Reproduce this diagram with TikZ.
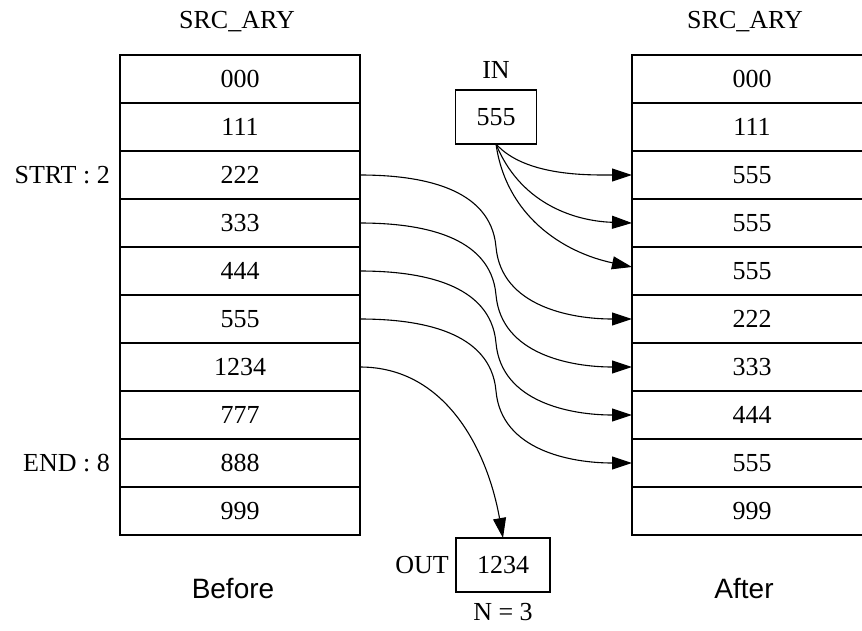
\documentclass[tikz,border=0pt]{standalone}
\usepackage{fontspec}
\setmainfont{Liberation Serif}
\setsansfont{Liberation Sans}
\usetikzlibrary{arrows.meta, positioning, calc}

\begin{document}
\begin{tikzpicture}[
  x=1pt, y=-1pt,
  cell/.style={draw, line width=1.2pt, outer sep=0pt, inner sep=0pt, minimum width=240pt, minimum height=48pt, font=\fontsize{26}{30}\selectfont},
  box/.style={draw, line width=1.2pt, outer sep=0pt, inner xsep=21pt, inner ysep=0pt, minimum height=54pt, font=\fontsize{26}{30}\selectfont},
  edge/.style={-{Triangle[length=20pt, width=13pt]}, line width=1.1pt},
  lab/.style={font=\fontsize{26}{30}\selectfont, inner sep=0pt},
  sflab/.style={font=\sffamily\fontsize{28}{32}\selectfont, inner sep=0pt}
]
\useasboundingbox (0,0) rectangle (862,630);
\clip (0,0) rectangle (862,630);

\node[cell] (L0) at (240,79) {000};
\node[cell, below=0pt of L0] (L1) {111};
\node[cell, below=0pt of L1] (L2) {222};
\node[cell, below=0pt of L2] (L3) {333};
\node[cell, below=0pt of L3] (L4) {444};
\node[cell, below=0pt of L4] (L5) {555};
\node[cell, below=0pt of L5] (L6) {1234};
\node[cell, below=0pt of L6] (L7) {777};
\node[cell, below=0pt of L7] (L8) {888};
\node[cell, below=0pt of L8] (L9) {999};

\node[cell] (R0) at (752,79) {000};
\node[cell, below=0pt of R0] (R1) {111};
\node[cell, below=0pt of R1] (R2) {555};
\node[cell, below=0pt of R2] (R3) {555};
\node[cell, below=0pt of R3] (R4) {555};
\node[cell, below=0pt of R4] (R5) {222};
\node[cell, below=0pt of R5] (R6) {333};
\node[cell, below=0pt of R6] (R7) {444};
\node[cell, below=0pt of R7] (R8) {555};
\node[cell, below=0pt of R8] (R9) {999};

\node[lab] (SrcL) at (237,22) {SRC\_ARY};
\node[lab] (SrcR) at (745,22) {SRC\_ARY};
\node[lab, left=10pt of L2] (Strt) {STRT : 2};
\node[lab, left=10pt of L8] (End) {END : 8};

\node[box] (In) at (496,117) {555};
\node[lab, above=11pt of In] (InLab) {IN};
\node[box] (Out) at (503,565) {1234};
\node[lab, left=7pt of Out] (OutLab) {OUT};
\node[lab, below=11pt of Out] (NLab) {N = 3};

\node[sflab] (Before) at (233,588) {Before};
\node[sflab] (After) at (744,588) {After};

\draw[edge] (In.south) to[out=-48, in=180, looseness=0.8] (R2.west);
\draw[edge] (In.south) to[out=-68, in=178] (R3.west);
\draw[edge] (In.south) to[out=-82, in=168] ([yshift=4pt]R4.west);

\draw[edge] (L2.east) to[out=0, in=95] ($(L2.east)!0.5!(R5.west)$) to[out=-85, in=180] (R5.west);
\draw[edge] (L3.east) to[out=0, in=95] ($(L3.east)!0.5!(R6.west)$) to[out=-85, in=180] (R6.west);
\draw[edge] (L4.east) to[out=0, in=95] ($(L4.east)!0.5!(R7.west)$) to[out=-85, in=180] (R7.west);
\draw[edge] (L5.east) to[out=0, in=95] ($(L5.east)!0.5!(R8.west)$) to[out=-85, in=180] (R8.west);

\draw[edge] (L6.east) to[out=0, in=100] (Out.north);

\end{tikzpicture}
\end{document}
